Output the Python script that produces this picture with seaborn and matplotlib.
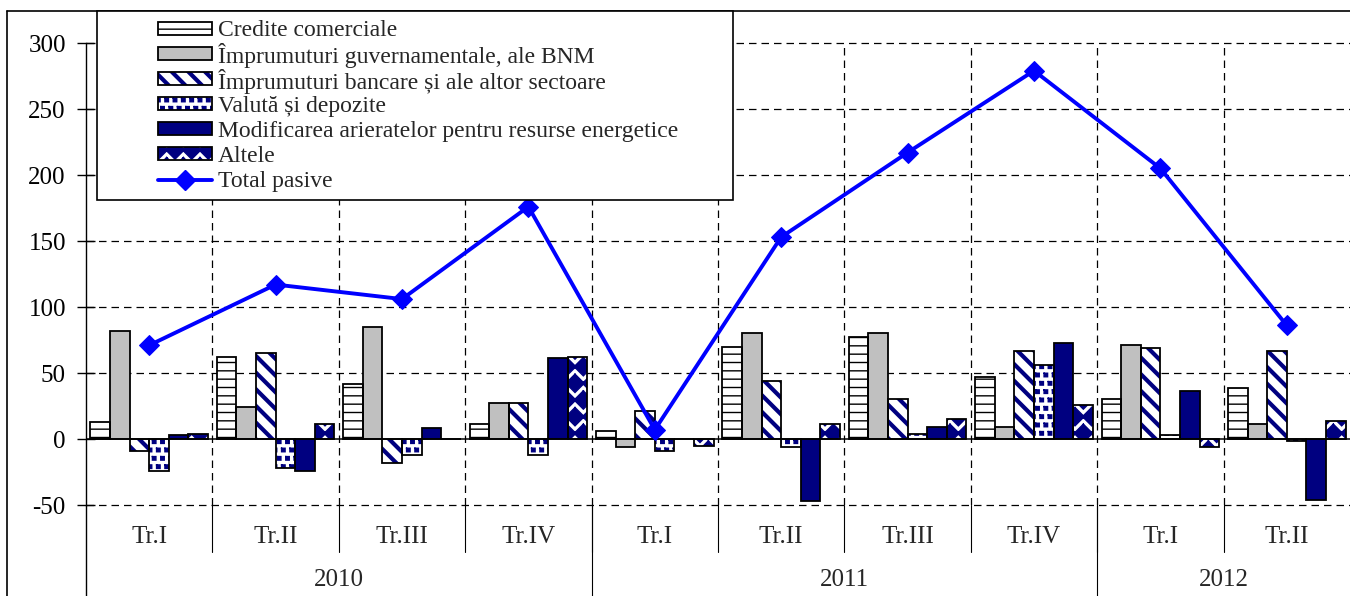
import numpy as np
import pandas as pd
import matplotlib
matplotlib.use("Agg")
import matplotlib.pyplot as plt
import matplotlib.hatch as mhatch
from matplotlib.path import Path
from matplotlib.transforms import Affine2D
from matplotlib.patches import Rectangle
from matplotlib.lines import Line2D
import seaborn as sns

sns.set_theme(style="white")
plt.rcParams['font.family'] = ['Liberation Serif', 'DejaVu Serif']
plt.rcParams['axes.unicode_minus'] = False
plt.rcParams['hatch.linewidth'] = 1.0


# '*' hatch drawn as filled diamonds, '.' as small filled squares (Excel-like)
class Diamonds(mhatch.Stars):
    size = 0.55

    def __init__(self, hatch, density):
        self.num_rows = hatch.count('*') * density
        self.shape_vertices = Path.unit_regular_polygon(4).vertices
        self.shape_codes = np.full(len(self.shape_vertices), Path.LINETO,
                                   dtype=Path.code_type)
        self.shape_codes[0] = Path.MOVETO
        mhatch.Shapes.__init__(self, hatch, density)


class Squares(mhatch.Stars):
    size = 0.3

    def __init__(self, hatch, density):
        self.num_rows = hatch.count('.') * density
        sq = Affine2D().rotate_deg(45).transform_path(Path.unit_regular_polygon(4))
        self.shape_vertices = sq.vertices
        self.shape_codes = np.full(len(self.shape_vertices), Path.LINETO,
                                   dtype=Path.code_type)
        self.shape_codes[0] = Path.MOVETO
        mhatch.Shapes.__init__(self, hatch, density)


mhatch._hatch_types[mhatch._hatch_types.index(mhatch.Stars)] = Diamonds
mhatch._hatch_types[mhatch._hatch_types.index(mhatch.SmallFilledCircles)] = Squares

# --- data (mil. USD) ---
quarters = ["Tr.I", "Tr.II", "Tr.III", "Tr.IV", "Tr.I", "Tr.II", "Tr.III", "Tr.IV", "Tr.I", "Tr.II"]
years = ["2010", "2011", "2012"]
year_len = [4, 4, 2]

series = [
    "Credite comerciale",
    "Împrumuturi guvernamentale, ale BNM",
    "Împrumuturi bancare și ale altor sectoare",
    "Valută și depozite",
    "Modificarea arieratelor pentru resurse energetice",
    "Altele",
]
credite = [13, 62, 42, 11, 6, 70, 77, 47, 30, 39]
guvern = [82, 24, 85, 27, -6, 80, 80, 9, 71, 11]
bancare = [-9, 65, -18, 27, 21, 44, 30, 67, 69, 67]
valuta = [-24, -22, -12, -12, -9, -6, 4, 56, 3, -1.5]
arierate = [3, -24, 8, 61, 0, -47, 9, 73, 36, -46]
altele = [4, 11, 0, 62, -5, 11, 15, 26, -6, 14]
total = [71, 117, 106, 176, 7, 153, 217, 279, 205, 86]
total_name = "Total pasive"

navy = "#000080"
blue = "#0000FF"
fills = ["white", "#C0C0C0", "white", "white", navy, "white"]
hatches = ["--", "", "\\\\", "..", "", "*"]
hatch_cols = ["black", "black", navy, navy, navy, navy]
hatch_lw = [1.0, 1.0, 3.0, 1.0, 1.0, 1.0]

values = [credite, guvern, bancare, valuta, arierate, altele]
rows = []
for name, vals in zip(series, values):
    for i, v in enumerate(vals):
        rows.append({"q": i, "serie": name, "val": v})
df = pd.DataFrame(rows)

W, H = 1350, 596
fig = plt.figure(figsize=(W / 100, H / 100), dpi=100)
ax = fig.add_axes([86 / W, 1 - 505 / H, (W - 86) / W, 462 / H])

sns.barplot(data=df, x="q", y="val", hue="serie", hue_order=series,
            width=0.93, dodge=True, legend=False, ax=ax, saturation=1,
            palette=fills, errorbar=None)


def style_patch(p, fc, ht, hc, hl):
    p.set_facecolor(fc)
    p.set_hatch(ht)
    p.set_edgecolor(hc)
    p.set_linewidth(0)
    if hasattr(p, "set_hatch_linewidth"):
        p.set_hatch_linewidth(hl)


for cont, fc, ht, hc, hl in zip(ax.containers, fills, hatches, hatch_cols, hatch_lw):
    for bar in cont:
        style_patch(bar, fc, ht, hc, hl)
        bar.set_zorder(2)
        x0, y0 = bar.get_xy()
        ax.add_patch(Rectangle((x0, y0), bar.get_width(), bar.get_height(),
                               fill=False, edgecolor="black", lw=1.3, zorder=3))

sns.lineplot(x=np.arange(len(total)), y=total, ax=ax, color=blue, lw=2.8,
             marker="D", markersize=10, markeredgecolor=blue, zorder=5)

ax.set_xlim(-0.5, len(quarters) - 0.5)
ax.set_ylim(-50, 300)
ax.set_yticks(np.arange(-50, 301, 50))
ax.set_xticks([])
ax.set_xlabel("")
ax.set_ylabel("")
ax.tick_params(axis="y", direction="inout", length=13, width=1, pad=8,
               labelsize=18, colors="black", left=True)

for s in ["top", "right", "bottom"]:
    ax.spines[s].set_visible(False)
ax.spines["left"].set_color("black")
ax.spines["left"].set_linewidth(1)

dash = (0, (6, 4))
for yv in np.arange(-50, 301, 50):
    if yv != 0:
        ax.axhline(yv, color="black", lw=0.9, ls=dash, zorder=1, clip_on=False)
ax.axhline(0, color="black", lw=1.1, zorder=4)
for k in range(len(quarters) - 1):
    ax.axvline(k + 0.5, color="black", lw=0.9, ls=dash, zorder=1)

# category labels under the plot
trans = ax.get_xaxis_transform()
for i, q in enumerate(quarters):
    ax.text(i, -0.07, q, transform=trans, ha="center", va="center", fontsize=18)
for k in range(len(quarters) - 1):
    ax.plot([k + 0.5, k + 0.5], [0, -0.102], transform=trans, color="black",
            lw=0.8, clip_on=False)
start = 0
for y, n in zip(years, year_len):
    ax.text(start + n / 2 - 0.5, -0.163, y, transform=trans, ha="center",
            va="center", fontsize=18)
    start += n
    if start < len(quarters):
        ax.plot([start - 0.5, start - 0.5], [0, -0.3], transform=trans,
                color="black", lw=0.8, clip_on=False)
ax.plot([-0.5, -0.5], [0, -0.3], transform=trans, color="black", lw=1, clip_on=False)

# chart border
fig.add_artist(Line2D([7 / W, 1], [1 - 11 / H, 1 - 11 / H], color="black", lw=1.2))
fig.add_artist(Line2D([7 / W, 7 / W], [0, 1 - 11 / H], color="black", lw=1.2))

# legend box, laid out by hand in pixel positions (Excel style, even rows)
fig.add_artist(Rectangle((97 / W, 1 - 200 / H), 636 / W, 189 / H,
                         transform=fig.transFigure, facecolor="white",
                         edgecolor="black", lw=1.2, zorder=3))
hx0, hx1, tx = 158, 212, 218
for k, (name, fc, ht, hc, hl) in enumerate(zip(series, fills, hatches, hatch_cols, hatch_lw)):
    yc = 28.5 + 25 * k
    hp = Rectangle((hx0 / W, 1 - (yc + 6.5) / H), (hx1 - hx0) / W, 13 / H,
                   transform=fig.transFigure, zorder=4)
    style_patch(hp, fc, ht, hc, hl)
    fig.add_artist(hp)
    fig.add_artist(Rectangle((hx0 / W, 1 - (yc + 6.5) / H), (hx1 - hx0) / W, 13 / H,
                             transform=fig.transFigure, fill=False,
                             edgecolor="black", lw=1.3, zorder=4))
    fig.text(tx / W, 1 - yc / H, name, fontsize=17, ha="left", va="center_baseline",
             zorder=4)
yc = 180
fig.add_artist(Line2D([hx0 / W, hx1 / W], [1 - yc / H] * 2, color=blue, lw=2.8,
                      zorder=4))
fig.add_artist(Line2D([(hx0 + hx1) / 2 / W], [1 - yc / H], color=blue, marker="D",
                      markersize=10, zorder=4))
fig.text(tx / W, 1 - 178.5 / H, total_name, fontsize=17, ha="left",
         va="center_baseline", zorder=4)

fig.savefig("out.png", dpi=100)
